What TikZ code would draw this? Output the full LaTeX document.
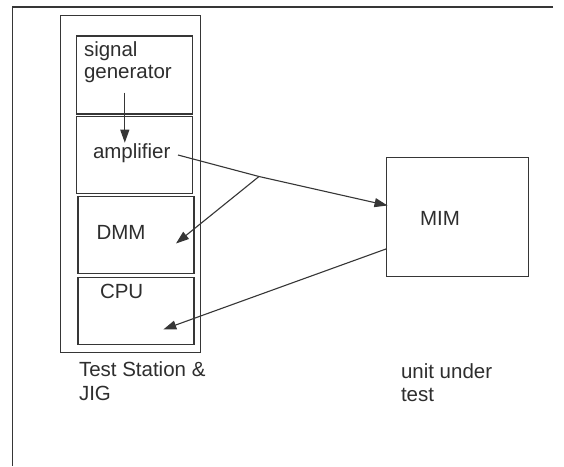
\documentclass[tikz,border=0pt]{standalone}
\usepackage{fontspec}
\setmainfont{Liberation Sans}
\usetikzlibrary{arrows.meta}
\definecolor{ink}{HTML}{363636}
\definecolor{txt}{HTML}{2E2E2E}
\begin{document}
\begin{tikzpicture}[x=1pt,y=-1pt,
  box/.style={draw=ink,line width=1.25pt,inner sep=0pt,outer sep=0pt,rectangle},
  lbl/.style={anchor=base west,inner sep=0pt,outer sep=0pt,text=txt,font=\fontsize{20.5}{24}\selectfont},
  conn/.style={draw=ink,line width=1.1pt},
  arr/.style={conn,-{Triangle[length=13pt,width=9pt]}}]
\useasboundingbox (0,0) rectangle (564,466);
\fill[white] (0,0) rectangle (564,466);
% outer frame (top and left sides only)
\coordinate (ftr) at (553,7);
\coordinate (ftl) at (12.5,7);
\coordinate (fbl) at (12.5,466);
\draw[ink,line width=1.3pt] (ftr) -- (ftl) -- (fbl);
% test station
\node[box,minimum width=140pt,minimum height=337pt] (station) at (130.5,184.2) {};
\node[box,minimum width=116pt,minimum height=78pt] (sig) at (134.2,75) {};
\node[box,minimum width=116pt,minimum height=77pt] (amp) at (134.2,154.7) {};
\node[box,minimum width=116pt,minimum height=77pt] (dmm) at (136,235.3) {};
\node[box,minimum width=116pt,minimum height=67pt] (cpu) at (136,310.7) {};
\node[box,minimum width=142pt,minimum height=119pt] (mim) at (457.2,216.7) {};
% labels
\node[lbl] (tsig) at (84,56) {signal};
\node[lbl] (tgen) at (84,78) {generator};
\node[lbl] (tamp) at (93,158) {amplifier};
\node[lbl] (tdmm) at (96.5,239.3) {DMM};
\node[lbl] (tcpu) at (100,298.8) {CPU};
\node[lbl] (tmim) at (420,225.3) {MIM};
\node[lbl] (tts) at (79,376.5) {Test Station \&};
\node[lbl] (tjig) at (79,400.5) {JIG};
\node[lbl] (tuut) at (401,378.3) {unit under};
\node[lbl] (ttest) at (401,401.5) {test};
% connectors
\coordinate (sgs) at (124.8,92.7);
\coordinate (sge) at (124.8,142.7);
\draw[arr] (sgs) -- (sge);
\coordinate (amps) at (178,155);
\coordinate (branch) at (259,176.5);
\coordinate (mimin) at (387.5,205.5);
\draw[arr] (amps) -- (branch) -- (mimin);
\coordinate (dmmtip) at (176,243.5);
\draw[arr] (branch) -- (dmmtip);
\coordinate (mimout) at (386.5,248.8);
\coordinate (cputip) at (163.3,329.5);
\draw[arr] (mimout) -- (cputip);
\end{tikzpicture}
\end{document}
